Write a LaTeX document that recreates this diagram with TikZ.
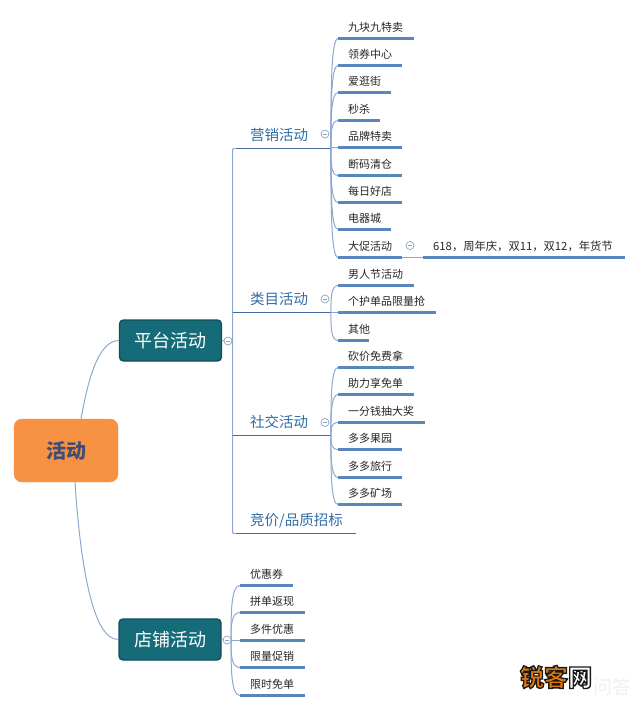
\documentclass[tikz,border=0pt]{standalone}
\usepackage{fontspec}
\setmainfont{Noto Sans CJK SC}
\usetikzlibrary{calc}
\definecolor{teal1}{HTML}{156C78}
\definecolor{teal2}{HTML}{0F4E5C}
\definecolor{orng}{HTML}{F79144}
\definecolor{rootink}{HTML}{3F4E75}
\definecolor{ulblue}{HTML}{5A86BE}
\definecolor{conn}{HTML}{8CA8D0}
\definecolor{subink}{HTML}{2F6DA6}
\definecolor{subline}{HTML}{46689A}
\definecolor{iconc}{HTML}{86A4BE}
\tikzset{
  rootnode/.style={draw=orng,fill=orng,rounded corners=8pt,minimum width=104pt,minimum height=63pt,inner sep=0,text=rootink,font=\fontsize{20}{20}\selectfont\bfseries},
  mainnode/.style={draw=teal2,line width=1.4pt,fill=teal1,rounded corners=4pt,minimum width=102pt,minimum height=41pt,inner sep=0,text=white,font=\fontsize{18}{18}\selectfont},
  leaf/.style={anchor=south west,inner xsep=0,inner ysep=0,text width=#1,minimum height=20pt,text height=8.5pt,text depth=2pt,align=left,font=\fontsize{11}{11}\selectfont,text=black!85,execute at begin node={\leavevmode\kern10pt}},
  subnode/.style={anchor=south west,inner xsep=0,inner ysep=0,text width=#1,minimum height=24pt,text height=11pt,text depth=3pt,align=left,font=\fontsize{14.5}{14.5}\selectfont,text=subink,execute at begin node={\leavevmode\kern17.5pt}},
  ul/.style={draw=ulblue,line width=2.4pt},
  subul/.style={draw=subline,line width=1pt},
  link/.style={draw=conn,line width=1pt},
  icon/.style={circle,draw=iconc,fill=white,line width=.7pt,minimum size=8pt,inner sep=0,path picture={\draw[iconc,line width=.6pt] ($(path picture bounding box.center)+(-2pt,0)$) -- ($(path picture bounding box.center)+(2pt,0)$);}},
}
\newcommand{\curvelink}[2]{\draw[link] (#1) .. controls ($(#1)!.5!(#1 |- #2)$) and (#1 |- #2) .. (#2);}
\begin{document}
\begin{tikzpicture}[x=1pt,y=-1pt]
\useasboundingbox (0,0) rectangle (640,709);
% root and main nodes
\node[rootnode] (root) at (66,450.5) {活动};
\node[mainnode] (plat) at (170.5,340.5) {平台活动};
\node[mainnode] (shop) at (170,639.5) {店铺活动};
\coordinate (rootUp) at (81,419);
\coordinate (rootDown) at (75,482);
\draw[link] (rootUp) .. controls (88,380) and (98,341) .. (plat.west);
\draw[link] (rootDown) .. controls (80,560) and (92,640) .. (shop.west);
% trunk
\coordinate (trunk) at (232.5,340.5);
\draw[link] (plat.east) -- (trunk);
% second level
\node[subnode=98pt] (s1) at (232.5,148.5) {营销活动};
\node[subnode=98pt] (s2) at (232.5,312.5) {类目活动};
\node[subnode=98pt] (s3) at (232.5,435.5) {社交活动};
\node[subnode=123pt] (s4) at (232.5,533.5) {竞价/品质招标};
\draw[link] (trunk) -- ($(s1.south west)+(0,3)$) .. controls (s1.south west) .. ($(s1.south west)+(3,0)$);
\draw[link] (trunk) -- ($(s4.south west)+(0,-3)$) .. controls (s4.south west) .. ($(s4.south west)+(3,0)$);
\draw[subul] ($(s1.south west)+(3,0)$) -- (s1.south east);
\draw[subul] (s2.south west) -- (s2.south east);
\draw[subul] (s3.south west) -- (s3.south east);
\draw[subul] ($(s4.south west)+(3,0)$) -- (s4.south east);
% leaves of s1
\foreach \n/\y/\w/\t in {a1/38.5/76/九块九特卖,a2/65.5/64/领券中心,a3/92.5/53/爱逛街,a4/120.5/42/秒杀,a5/147.5/64/品牌特卖,a6/175.5/64/断码清仓,a7/202.5/64/每日好店,a8/229.5/53/电器城,a9/257.5/64/大促活动}{
  \node[leaf=\w pt] (\n) at (338,\y) {\t};
  \curvelink{s1.south east}{\n.south west}
  \draw[ul] (\n.south west) -- (\n.south east);
}
% leaves of s2
\foreach \n/\y/\w/\t in {b1/285.5/76/男人节活动,b2/312.5/98/个护单品限量抢,b3/340.5/31/其他}{
  \node[leaf=\w pt] (\n) at (338,\y) {\t};
  \curvelink{s2.south east}{\n.south west}
  \draw[ul] (\n.south west) -- (\n.south east);
}
% leaves of s3
\foreach \n/\y/\w/\t in {c1/367.5/76/砍价免费拿,c2/394.5/76/助力享免单,c3/422.5/87/一分钱抽大奖,c4/449.5/64/多多果园,c5/477.5/64/多多旅行,c6/504.5/64/多多矿场}{
  \node[leaf=\w pt] (\n) at (338,\y) {\t};
  \curvelink{s3.south east}{\n.south west}
  \draw[ul] (\n.south west) -- (\n.south east);
}
% detail of a9
\node[leaf=202pt,font=\fontsize{11.3}{11.3}\selectfont] (d1) at (423,257.5) {618，周年庆，双11，双12，年货节};
\draw[link] (a9.south east) -- (d1.south west);
\draw[ul] (d1.south west) -- (d1.south east);
% leaves of shop
\coordinate (shopHub) at (231,640.5);
\draw[link] (shop.east) -- (shopHub);
\foreach \n/\y/\w/\t in {e1/585.5/53/优惠券,e2/612.5/65/拼单返现,e3/640.5/65/多件优惠,e4/667.5/65/限量促销,e5/695.5/65/限时免单}{
  \node[leaf=\w pt] (\n) at (240,\y) {\t};
  \curvelink{shopHub}{\n.south west}
  \draw[ul] (\n.south west) -- (\n.south east);
}
% collapse icons
\node[icon] (i1) at (325,134) {};
\node[icon] (i2) at (325,299) {};
\node[icon] (i3) at (325,422.5) {};
\node[icon] (i4) at (410,245.5) {};
\node[icon] (i5) at (228,341) {};
\node[icon] (i6) at (227,640) {};
% watermark
\node[inner sep=0,text=black!6,font=\fontsize{19}{19}\selectfont] (wm0) at (612,687) {问答};
\node[inner sep=0,font=\fontsize{24}{24}\selectfont\bfseries] (wm) at (556,677) {\special{pdf:code 2 Tr 1.3 w 0.1 0.1 0.1 RG 0.88 0.47 0.06 rg}锐客\special{pdf:code 1 1 1 rg}网\special{pdf:code 0 Tr}};
\end{tikzpicture}
\end{document}
